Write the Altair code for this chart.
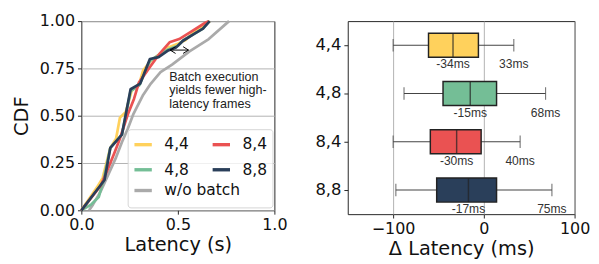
import altair as alt
import pandas as pd

# ---------------- Left panel: CDF of latency ----------------
batch_names = ["4,4", "4,8", "8,4", "8,8"]          # legend fills column by column
batch_colors = ["#FFD15C", "#74BE96", "#EA5252", "#2A3F5A"]
nobatch_name = ["w/o batch"]
nobatch_color = ["#AAAAAA"]

lat_wo = [0.04, 0.06, 0.10, 0.14, 0.18, 0.21, 0.24, 0.27, 0.32, 0.36, 0.41, 0.47, 0.56, 0.66, 0.765]
cdf_wo = [0.00, 0.03, 0.10, 0.19, 0.28, 0.36, 0.43, 0.51, 0.61, 0.67, 0.73, 0.77, 0.84, 0.905, 1.00]

lat_44 = [0.0, 0.08, 0.11, 0.15, 0.18, 0.20, 0.23, 0.26, 0.30, 0.32, 0.36, 0.41, 0.45, 0.50, 0.54, 0.58, 0.63, 0.665]
cdf_44 = [0.0, 0.12, 0.17, 0.33, 0.38, 0.49, 0.52, 0.63, 0.67, 0.74, 0.79, 0.83, 0.86, 0.88, 0.90, 0.94, 0.97, 1.00]

lat_48 = [0.0, 0.05, 0.09, 0.115, 0.15, 0.21, 0.255, 0.30, 0.355, 0.40, 0.45, 0.50, 0.53, 0.58, 0.63, 0.66]
cdf_48 = [0.0, 0.03, 0.07, 0.16, 0.33, 0.40, 0.63, 0.66, 0.79, 0.82, 0.85, 0.87, 0.90, 0.93, 0.96, 1.00]

lat_84 = [0.0, 0.10, 0.13, 0.17, 0.20, 0.24, 0.273, 0.298, 0.357, 0.407, 0.457, 0.507, 0.573, 0.64, 0.66]
cdf_84 = [0.0, 0.13, 0.20, 0.30, 0.38, 0.505, 0.59, 0.675, 0.76, 0.83, 0.888, 0.905, 0.947, 0.99, 1.00]

lat_88 = [0.0, 0.12, 0.15, 0.21, 0.255, 0.305, 0.355, 0.40, 0.45, 0.49, 0.525, 0.58, 0.63, 0.665]
cdf_88 = [0.0, 0.16, 0.33, 0.40, 0.64, 0.67, 0.80, 0.81, 0.845, 0.86, 0.895, 0.93, 0.96, 1.00]

series_data = {
    "w/o batch": (lat_wo, cdf_wo),
    "4,4": (lat_44, cdf_44),
    "4,8": (lat_48, cdf_48),
    "8,4": (lat_84, cdf_84),
    "8,8": (lat_88, cdf_88),
}

rows = []
for name, (xs, ys) in series_data.items():
    for i, (x, y) in enumerate(zip(xs, ys)):
        rows.append({"series": name, "latency": x, "cdf": y, "idx": i})
cdf_df = pd.DataFrame(rows)

annot_lines = ["Batch execution", "yields fewer high-", "latency frames"]
annot_x = [0.455]
annot_y = [0.704]
arrow_x = [0.46, 0.555]
arrow_y = [0.847, 0.847]

FONT = "DejaVu Sans"
SANS = "Liberation Sans"

xs_left = alt.Scale(domain=[0, 1], nice=False, padding=0, zero=False)
ys_left = alt.Scale(domain=[0, 1], nice=False, padding=0, zero=False)
x_left = alt.X("latency:Q", scale=xs_left,
               axis=alt.Axis(values=[0, 0.5, 1.0], format=".1f", title="Latency (s)", grid=False))
y_left = alt.Y("cdf:Q", scale=ys_left,
               axis=alt.Axis(values=[0, 0.25, 0.5, 0.75, 1.0], format=".2f", title="CDF",
                             grid=True, gridColor="#b0b0b0", titlePadding=8))

batch_scale = alt.Scale(domain=batch_names, range=batch_colors)
batch_legend = alt.Legend(
    title=" ", titleOrient="bottom", titleFontSize=16, titlePadding=10,
    orient="none", legendX=48, legendY=112, columns=2, direction="vertical",
    symbolType="stroke", symbolSize=324, symbolStrokeWidth=3.5,
    labelFontSize=16, labelFont=FONT, labelColor="#111",
    padding=5, rowPadding=7, columnPadding=17, labelOffset=11,
    strokeColor="#d4d4d4", fillColor="rgba(255,255,255,0.8)", cornerRadius=3,
    zindex=1,
)
nobatch_legend = alt.Legend(
    title=None, orient="none", legendX=53, legendY=164.5,
    symbolType="stroke", symbolSize=324, symbolStrokeWidth=3.5,
    labelFontSize=16, labelFont=FONT, labelColor="#111",
    padding=0, labelOffset=11, zindex=2,
)

gray_line = alt.Chart(cdf_df).transform_filter(alt.datum.series == "w/o batch").mark_line(
    strokeWidth=2.8, strokeJoin="round"
).encode(
    x=x_left, y=y_left, order=alt.Order("idx:Q"),
    stroke=alt.Stroke("series:N", scale=alt.Scale(domain=nobatch_name, range=nobatch_color),
                      legend=nobatch_legend),
)

line_layers = [gray_line]
for name in ["4,4", "4,8", "8,4", "8,8"]:
    line_layers.append(
        alt.Chart(cdf_df).transform_filter(alt.datum.series == name)
        .mark_line(strokeWidth=2.8, strokeJoin="round")
        .encode(x=x_left, y=y_left, order=alt.Order("idx:Q"),
                color=alt.Color("series:N", scale=batch_scale, legend=batch_legend))
    )

arrow_df = pd.DataFrame({"x": [arrow_x[0]], "x2": [arrow_x[1]], "y": [arrow_y[0]]})
arrow_rule = alt.Chart(arrow_df).mark_rule(color="black", strokeWidth=1).encode(
    x=alt.X("x:Q", scale=xs_left), x2="x2:Q", y=alt.Y("y:Q", scale=ys_left))
heads_df = pd.DataFrame({"x": arrow_x, "y": arrow_y, "side": ["l", "r"]})
head_l = alt.Chart(heads_df).transform_filter(alt.datum.side == "l").mark_point(
    shape="M1.6,-1L0,0L1.6,1", size=49, filled=False, color="black", strokeWidth=1, opacity=1
).encode(x=alt.X("x:Q", scale=xs_left), y=alt.Y("y:Q", scale=ys_left))
head_r = alt.Chart(heads_df).transform_filter(alt.datum.side == "r").mark_point(
    shape="M-1.6,-1L0,0L-1.6,1", size=49, filled=False, color="black", strokeWidth=1, opacity=1
).encode(x=alt.X("x:Q", scale=xs_left), y=alt.Y("y:Q", scale=ys_left))

annot_df = pd.DataFrame({"x": annot_x, "y": annot_y, "t": [annot_lines]})
annot = alt.Chart(annot_df).mark_text(
    align="left", baseline="middle", font=SANS, fontSize=13, lineHeight=14, color="#222"
).encode(x=alt.X("x:Q", scale=xs_left), y=alt.Y("y:Q", scale=ys_left), text="t")

left = alt.layer(*line_layers, arrow_rule, head_l, head_r, annot).properties(width=200, height=196)

# ---------------- Right panel: box plots of latency difference ----------------
configs = ["4,4", "4,8", "8,4", "8,8"]
box_colors = ["#FFD15C", "#74BE96", "#EA5252", "#2A3F5A"]
whisker_low = [-100, -88, -100, -97]
q1 = [-61, -45, -59, -52]
median = [-34, -15, -30, -17]
q3 = [-6, 14, -3, 14]
whisker_high = [33, 68, 40, 75]
median_labels = ["-34ms", "-15ms", "-30ms", "-17ms"]
high_labels = ["33ms", "68ms", "40ms", "75ms"]

box_df = pd.DataFrame({
    "cfg": configs, "lo": whisker_low, "q1": q1, "med": median, "q3": q3, "hi": whisker_high,
    "mlab": median_labels, "hlab": high_labels,
})

y_right = alt.Y("cfg:N", scale=alt.Scale(domain=configs, paddingInner=0, paddingOuter=0),
                axis=alt.Axis(title=None, grid=False, labelFontSize=17))
x_scale_r = alt.Scale(domain=[-150, 100], nice=False, padding=0, zero=False)
x_axis_r = alt.Axis(values=[-100, 0, 100], title="Δ Latency (ms)", grid=True, gridColor="#b0b0b0")

base_r = alt.Chart(box_df)
whisk = base_r.mark_rule(color="#444", strokeWidth=1.2).encode(
    x=alt.X("lo:Q", scale=x_scale_r, axis=x_axis_r), x2="hi:Q", y=y_right)
cap_lo = base_r.mark_tick(color="#444", size=13, thickness=1.2).encode(
    x=alt.X("lo:Q", scale=x_scale_r), y=y_right)
cap_hi = base_r.mark_tick(color="#444", size=13, thickness=1.2).encode(
    x=alt.X("hi:Q", scale=x_scale_r), y=y_right)
boxes = base_r.mark_bar(height={"band": 0.5}, stroke="#222", strokeWidth=1.5, opacity=1).encode(
    x=alt.X("q1:Q", scale=x_scale_r), x2="q3:Q", y=y_right,
    fill=alt.Fill("cfg:N", scale=alt.Scale(domain=configs, range=box_colors), legend=None))
meds = base_r.mark_tick(color="#222", size=25, thickness=1.5).encode(
    x=alt.X("med:Q", scale=x_scale_r), y=y_right)
mtext = base_r.mark_text(font=SANS, fontSize=12.5, color="#333", dy=20).encode(
    x=alt.X("med:Q", scale=x_scale_r), y=y_right, text="mlab:N")
htext = base_r.mark_text(font=SANS, fontSize=12.5, color="#333", dy=20).encode(
    x=alt.X("hi:Q", scale=x_scale_r), y=y_right, text="hlab:N")

right = alt.layer(whisk, cap_lo, cap_hi, boxes, meds, mtext, htext).properties(width=235, height=200)

chart = alt.hconcat(left, right, spacing=76, bounds="flush").properties(
    padding={"left": 3, "top": 0, "right": 0, "bottom": 0}
).configure_view(
    stroke="#222", strokeWidth=1
).configure_axis(
    domain=False, tickColor="#222", tickSize=4, labelPadding=3, labelFlush=False,
    labelFont=FONT, labelFontSize=16.5, labelColor="#111",
    titleFont=FONT, titleFontSize=20, titleFontWeight="normal", titleColor="#111",
    titlePadding=2,
).configure_axisY(titlePadding=8)

chart.save("out.html", embed_options={"renderer": "svg", "actions": False})
